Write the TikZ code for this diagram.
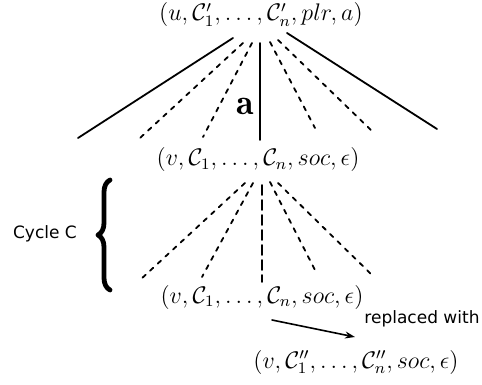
\documentclass[tikz,border=0pt]{standalone}
\usepackage{amsmath,amssymb}
\usepackage{fontspec}
\usepackage{tikz}
\usetikzlibrary{arrows.meta,decorations.pathreplacing}
\newfontfamily\labelfont{DejaVu Sans}

\begin{document}
\begin{tikzpicture}[x=0.5pt,y=-0.5pt,line cap=round,line join=round,
    tuple/.style={inner sep=0pt,font=\fontsize{12}{14}\selectfont},
    sidetext/.style={inner sep=0pt,font=\labelfont\fontsize{8.5}{10}\selectfont},
    branch/.style={line width=0.9pt},
    dotbranch/.style={line width=0.9pt,dash pattern=on 2.2pt off 3pt},
    longdash/.style={line width=0.9pt,dash pattern=on 5pt off 2.5pt}]
  \useasboundingbox (0,0) rectangle (482,385);
  % the four tuples
  \node[tuple] (top) at (261,15) {$(u,\mathcal{C}'_1,\ldots,\mathcal{C}'_n,plr,a)$};
  \node[tuple] (mid) at (258,160) {$(v,\mathcal{C}_1,\ldots,\mathcal{C}_n,soc,\epsilon)$};
  \node[tuple] (mid2) at (262,297) {$(v,\mathcal{C}_1,\ldots,\mathcal{C}_n,soc,\epsilon)$};
  \node[tuple] (low) at (356,362) {$(v,\mathcal{C}''_1,\ldots,\mathcal{C}''_n,soc,\epsilon)$};
  % upper fan
  \coordinate (u1) at (233,38);  \coordinate (e1) at (78,138);
  \coordinate (u2) at (243,43);  \coordinate (e2) at (140,138);
  \coordinate (u3) at (252,43);  \coordinate (e3) at (203,137);
  \coordinate (u4) at (260,43);  \coordinate (e4) at (260,140);
  \coordinate (u5) at (270,42);  \coordinate (e5) at (315,128);
  \coordinate (u6) at (278,40);  \coordinate (e6) at (372,131);
  \coordinate (u7) at (287,33);  \coordinate (e7) at (437,129);
  \draw[branch] (u1) -- (e1);
  \draw[dotbranch] (u2) -- (e2);
  \draw[dotbranch] (u3) -- (e3);
  \draw[branch] (u4) -- (e4);
  \draw[dotbranch] (u5) -- (e5);
  \draw[dotbranch] (u6) -- (e6);
  \draw[branch] (u7) -- (e7);
  \node[font=\fontsize{18}{20}\selectfont,inner sep=0pt] (act) at (245,106) {$\mathbf{a}$};
  % lower fan
  \coordinate (m1) at (245,183);  \coordinate (f1) at (140,280);
  \coordinate (m2) at (253,183);  \coordinate (f2) at (202,277);
  \coordinate (m3) at (262,185);  \coordinate (f3) at (262,282);
  \coordinate (m4) at (270,182);  \coordinate (f4) at (315,270);
  \coordinate (m5) at (278,183);  \coordinate (f5) at (372,275);
  \draw[dotbranch] (m1) -- (f1);
  \draw[dotbranch] (m2) -- (f2);
  \draw[longdash] (m3) -- (f3);
  \draw[dotbranch] (m4) -- (f4);
  \draw[dotbranch] (m5) -- (f5);
  % cycle brace
  \coordinate (bb) at (110,290);
  \coordinate (bt) at (110,180);
  \draw[line width=2.4pt,decorate,decoration={brace,amplitude=6pt}] (bb) -- (bt);
  \node[sidetext] (cyc) at (45,234) {Cycle C};
  % replacement
  \coordinate (rs) at (272,320);
  \coordinate (re) at (355,337);
  \draw[line width=0.8pt,-{Stealth[length=5pt,width=3.5pt]}] (rs) -- (re);
  \node[sidetext] (repl) at (422,319) {replaced with};
\end{tikzpicture}
\end{document}
